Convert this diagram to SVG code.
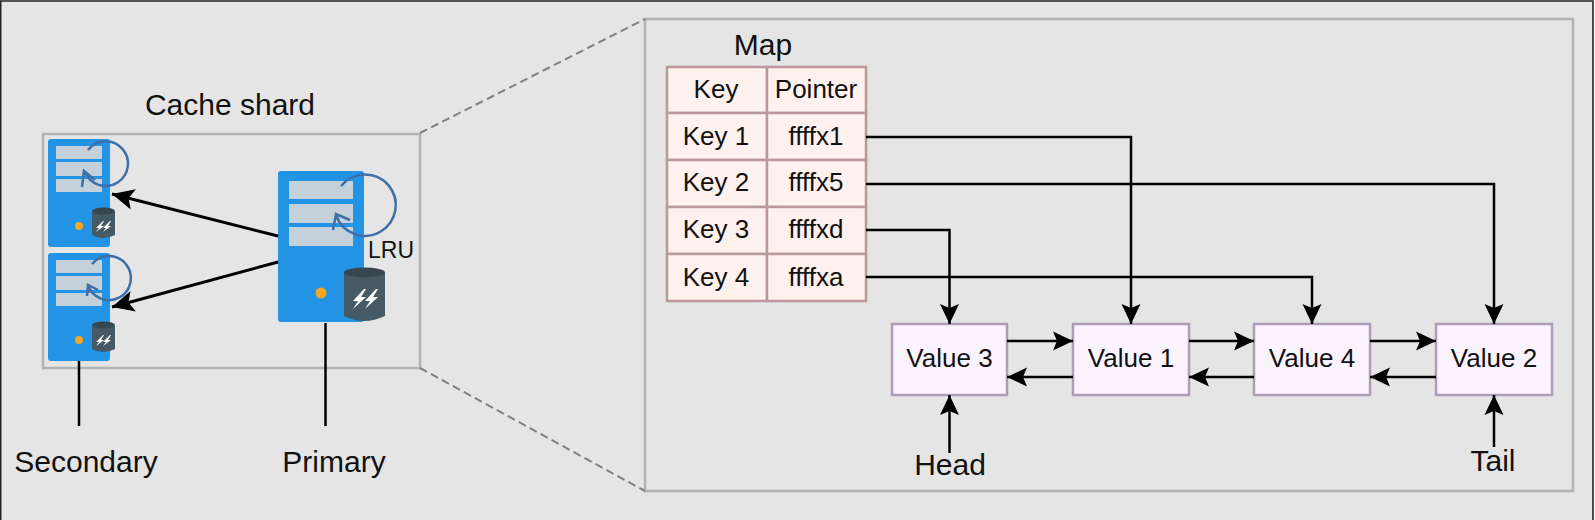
<svg xmlns="http://www.w3.org/2000/svg" width="1595" height="520" viewBox="0 0 1595 520">
<style>
text{font-family:"Liberation Sans",Arial,sans-serif;fill:#111;text-anchor:middle}
.lg{font-size:30px}
.md{font-size:26px}
.frame{fill:none;stroke:#b3b3b3;stroke-width:2.500}
.dash{fill:none;stroke:#808080;stroke-width:2;stroke-dasharray:8 4.500}
.cell{fill:#fff1ee;stroke:#b89a9a;stroke-width:2.500}
.val{fill:#fbf3ff;stroke:#ae9db8;stroke-width:2.500}
.con{fill:none;stroke:#000;stroke-width:2.500}
.big{stroke-width:3}
.srv{fill:#2293e5}
.row{fill:#c4d0da}
.dot{fill:#f5a623}
.cyl{fill:#455a64}
.cyt{fill:#37474f}
.bolt{fill:#fff}
.lru{fill:none;stroke:#3f6fa8;stroke-width:2.500}
</style>
<defs>
<marker id="a" markerUnits="userSpaceOnUse" markerWidth="22" markerHeight="22" refX="20" refY="10" orient="auto"><path d="M20,10 L0,0.500 L4,10 L0,19.500 Z" fill="#000"/></marker>
<marker id="b" markerUnits="userSpaceOnUse" markerWidth="24" markerHeight="24" refX="22" refY="11" orient="auto"><path d="M22,11 L0,0.500 L5,11 L0,21.500 Z" fill="#000"/></marker>
</defs>
<rect x="0" y="0" width="1593" height="520" fill="#e5e5e5"/>
<rect x="1593" y="0" width="2" height="520" fill="#fff"/>
<path d="M0.700 520V1H1593V520" fill="none" stroke="#222" stroke-width="1.600"/>
<g id="cache-shard">
<rect class="frame" x="43" y="134" width="377" height="234"/>
<text class="lg" x="230" y="115">Cache shard</text>
</g>
<g id="zoom-frame">
<rect class="frame" x="645" y="19" width="928" height="472"/>
<path class="dash" d="M420,133L645,19"/>
<path class="dash" d="M420,368L645,491"/>
</g>
<g id="secondary-1">
<rect class="srv" x="48" y="139" width="62" height="108" rx="3"/>
<rect class="row" x="56" y="146" width="46" height="13"/>
<rect class="row" x="56" y="162" width="46" height="14"/>
<rect class="row" x="56" y="179" width="46" height="13"/>
<circle class="dot" cx="79" cy="226" r="4"/>
<path class="cyl" d="M92,212V235Q103,241 115,235V212Z"/>
<ellipse class="cyt" cx="103.500" cy="211" rx="11.500" ry="3.500"/>
<path class="bolt" d="M103,221L96,228H99L96,232L104,226H101L104,221ZM110,221L103,228H106L103,232L111,226H108L111,221Z"/>
<path class="lru" d="M88,150A22.300,22.300 0 1 1 85,172M82,187L84,171L95,180"/>
</g>
<g id="secondary-2">
<rect class="srv" x="48" y="253" width="62" height="108" rx="3"/>
<rect class="row" x="56" y="260" width="46" height="13"/>
<rect class="row" x="56" y="276" width="46" height="14"/>
<rect class="row" x="56" y="293" width="46" height="13"/>
<circle class="dot" cx="79" cy="340" r="4"/>
<path class="cyl" d="M92,326V349Q103,355 115,349V326Z"/>
<ellipse class="cyt" cx="103.500" cy="325" rx="11.500" ry="3.500"/>
<path class="bolt" d="M103,335L96,342H99L96,346L104,340H101L104,335ZM110,335L103,342H106L103,346L111,340H108L111,335Z"/>
<path class="lru" d="M92,264A22,22 0 1 1 88,285M87,296L88,285L98,290"/>
</g>
<g id="primary">
<rect class="srv" x="278" y="171" width="86" height="151" rx="3"/>
<rect class="row" x="289" y="181" width="64" height="18"/>
<rect class="row" x="289" y="204" width="64" height="19"/>
<rect class="row" x="289" y="227" width="64" height="19"/>
<circle class="dot" cx="321" cy="293" r="5.500"/>
<path class="cyl" d="M344,273V316Q364,326 385,316V273Z"/>
<ellipse class="cyt" cx="364.500" cy="272.500" rx="20.500" ry="5"/>
<path class="bolt" d="M364,289L353,301H358L353,309L366,297H361L366,289ZM376,289L365,301H370L365,309L378,297H373L378,289Z"/>
<path class="lru" d="M341,186A30.700,30.700 0 1 1 336,215M333,230L336,214L350,220"/>
<text x="391" y="258" style="font-size:23px">LRU</text>
</g>
<g id="map">
<text class="lg" x="763" y="55">Map</text>
<rect class="cell" x="667" y="67" width="100" height="46"/><rect class="cell" x="767" y="67" width="99" height="46"/>
<rect class="cell" x="667" y="113" width="100" height="47"/><rect class="cell" x="767" y="113" width="99" height="47"/>
<rect class="cell" x="667" y="160" width="100" height="47"/><rect class="cell" x="767" y="160" width="99" height="47"/>
<rect class="cell" x="667" y="207" width="100" height="47"/><rect class="cell" x="767" y="207" width="99" height="47"/>
<rect class="cell" x="667" y="254" width="100" height="47"/><rect class="cell" x="767" y="254" width="99" height="47"/>
<g class="md">
<text x="716" y="98">Key</text><text x="816" y="98">Pointer</text>
<text x="716" y="145">Key 1</text><text x="816" y="145">ffffx1</text>
<text x="716" y="191">Key 2</text><text x="816" y="191">ffffx5</text>
<text x="716" y="238">Key 3</text><text x="816" y="238">ffffxd</text>
<text x="716" y="286">Key 4</text><text x="816" y="286">ffffxa</text>
</g>
</g>
<g id="value-3"><rect class="val" x="892" y="324" width="115" height="71"/><text class="md" x="949.500" y="367">Value 3</text></g>
<g id="value-1"><rect class="val" x="1073" y="324" width="116" height="71"/><text class="md" x="1131" y="367">Value 1</text></g>
<g id="value-4"><rect class="val" x="1254" y="324" width="116" height="71"/><text class="md" x="1312" y="367">Value 4</text></g>
<g id="value-2"><rect class="val" x="1436" y="324" width="116" height="71"/><text class="md" x="1494" y="367">Value 2</text></g>
<g id="labels">
<text class="lg" x="86" y="472">Secondary</text>
<text class="lg" x="334" y="472">Primary</text>
<text class="lg" x="950" y="475">Head</text>
<text class="lg" x="1493" y="471">Tail</text>
</g>
<g id="connectors">
<path class="con big" d="M278,236L112,194" marker-end="url(#b)"/>
<path class="con big" d="M278,262L112,307" marker-end="url(#b)"/>
<path class="con" d="M79,361V426"/>
<path class="con" d="M325.500,323V426"/>
<path class="con" d="M866,137H1131V324" marker-end="url(#a)"/>
<path class="con" d="M866,184H1494V324" marker-end="url(#a)"/>
<path class="con" d="M866,230H949.500V324" marker-end="url(#a)"/>
<path class="con" d="M866,277H1312V324" marker-end="url(#a)"/>
<path class="con" d="M1007,341H1073" marker-end="url(#a)"/>
<path class="con" d="M1073,377H1007" marker-end="url(#a)"/>
<path class="con" d="M1189,341H1254" marker-end="url(#a)"/>
<path class="con" d="M1254,377H1189" marker-end="url(#a)"/>
<path class="con" d="M1370,341H1436" marker-end="url(#a)"/>
<path class="con" d="M1436,377H1370" marker-end="url(#a)"/>
<path class="con" d="M949.500,453V395" marker-end="url(#a)"/>
<path class="con" d="M1494,447V395" marker-end="url(#a)"/>
</g>
</svg>
